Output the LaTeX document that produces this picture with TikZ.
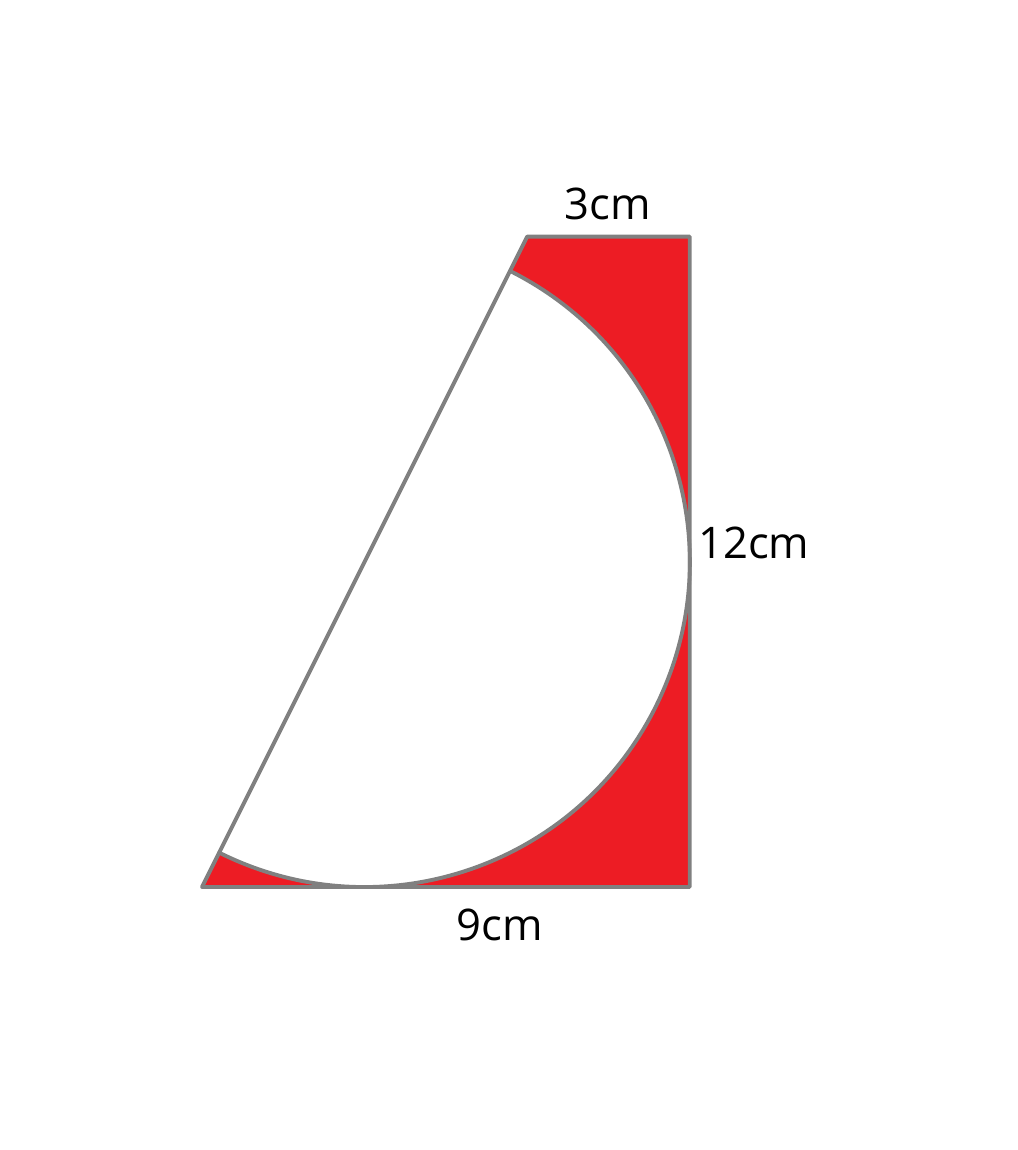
\documentclass[tikz,border=0pt]{standalone}
\usepackage{fontspec}
\setmainfont{Open Sans}
\usetikzlibrary{calc}
\definecolor{redfill}{HTML}{ED1C24}
\definecolor{edgegray}{HTML}{808080}
\begin{document}
\begin{tikzpicture}[x=0.5420cm,y=0.5420cm,
  edgeline/.style={draw=edgegray,line width=1.1pt,line join=round,line cap=round},
  lbl/.style={font=\fontsize{12.4}{15}\selectfont,inner sep=0pt}]
\useasboundingbox[fill=white] (-202/54.2,-263/54.2) rectangle (815/54.2,887/54.2);
\coordinate (A) at (0,0);
\coordinate (B) at (9,0);
\coordinate (C) at (9,12);
\coordinate (D) at (6,12);
\coordinate (O) at (3,6);
\coordinate (P) at ($(O)+(63.435:6)$);
\coordinate (Q) at ($(O)+(243.435:6)$);
\fill[redfill] (A) -- (B) -- (C) -- (D) -- cycle;
\fill[white] (P) arc[start angle=63.435,end angle=-116.565,radius=6] -- cycle;
\draw[edgeline] (P) arc[start angle=63.435,end angle=-116.565,radius=6];
\draw[edgeline] (A) -- (B) -- (C) -- (D) -- cycle;
\node[lbl] (t3) at (7.49,12.61) {3cm};
\node[lbl] (t12) at (10.18,6.35) {12cm};
\node[lbl] (t9) at (5.5,-0.70) {9cm};
\end{tikzpicture}
\end{document}
